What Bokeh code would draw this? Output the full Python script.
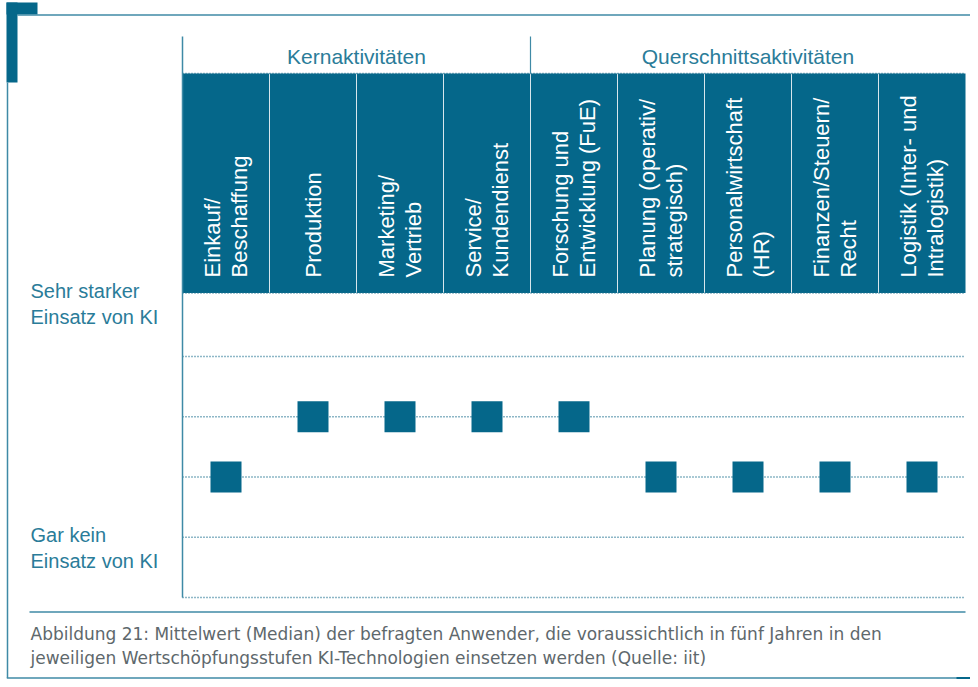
import numpy as np
from bokeh.plotting import figure
from bokeh.models import Range1d, ColumnDataSource
from bokeh.core.properties import value
from bokeh.embed import file_html
from bokeh.resources import INLINE

# ---------------- data ----------------
category_line1 = ["Einkauf/", "Produktion", "Marketing/", "Service/", "Forschung und",
                  "Planung (operativ/", "Personalwirtschaft", "Finanzen/Steuern/", "Logistik (Inter- und"]
category_line2 = ["Beschaffung", "", "Vertrieb", "Kundendienst", "Entwicklung (FuE)",
                  "strategisch)", "(HR)", "Recht", "Intralogistik)"]
median_values = [2, 3, 3, 3, 3, 2, 2, 2, 2]
group_names = ["Kernaktivitäten", "Querschnittsaktivitäten"]
group_start = [0, 4]
group_end = [4, 9]
scale_levels = [0, 1, 2, 3, 4]
top_label = ["Sehr starker", "Einsatz von KI"]
bottom_label = ["Gar kein", "Einsatz von KI"]
caption_lines = ["Abbildung 21: Mittelwert (Median) der befragten Anwender, die voraussichtlich in fünf Jahren in den",
                 "jeweiligen Wertschöpfungsstufen KI-Technologien einsetzen werden (Quelle: iit)"]

# ---------------- layout helpers ----------------
W, H = 970, 679
COL_PX = 87.0
LEVEL_PX = 60.25
AXIS_X_PX = 182.0
ZERO_Y_PX = 597.0


def X(rx):
    return (rx - AXIS_X_PX) / COL_PX


def Y(ry):
    return (ZERO_Y_PX - ry) / LEVEL_PX


TEAL = "#05678A"
LINE = "#3f8aa6"
DOT = "#1c6f8e"
TXT_TEAL = "#2a7c99"
GRAY = "#5e686c"
FONT = "Liberation Sans"
CAP_FONT = "DejaVu Sans"

n = len(median_values)

p = figure(width=W, height=H, x_range=Range1d(X(0), X(W)),
           y_range=Range1d(Y(H), Y(0)),
           x_axis_type=None, y_axis_type=None, toolbar_location=None,
           output_backend="svg", min_border=0, outline_line_color=None)
p.background_fill_color = "white"
p.border_fill_color = "white"

# ---------------- frame decoration ----------------
p.quad(left=[X(6)], right=[X(37)], top=[Y(2)], bottom=[Y(14)], fill_color=TEAL, line_color=None)
p.quad(left=[X(6)], right=[X(17)], top=[Y(2)], bottom=[Y(82)], fill_color=TEAL, line_color=None)
p.segment(x0=[X(17)], y0=[Y(14.5)], x1=[X(W)], y1=[Y(14.5)], line_color=LINE, line_width=1.5)
p.segment(x0=[X(7)], y0=[Y(82)], x1=[X(7)], y1=[Y(677.5)], line_color=LINE, line_width=1.5)
p.segment(x0=[X(6.3)], y0=[Y(677.5)], x1=[X(W)], y1=[Y(677.5)], line_color=LINE, line_width=1.5)
p.quad(left=[X(956)], right=[X(W)], top=[Y(676.5)], bottom=[Y(H)], fill_color=TEAL, line_color=None)
# caption separator
p.segment(x0=[X(29)], y0=[Y(611.5)], x1=[X(965)], y1=[Y(611.5)], line_color=LINE, line_width=1.5)

# ---------------- header band ----------------
band_top = Y(73)
band_bottom = Y(292.5)
p.quad(left=[0], right=[n], top=[band_top], bottom=[band_bottom], fill_color=TEAL, line_color=None)
sep_x = list(range(1, n))
p.segment(x0=sep_x, y0=[band_bottom] * len(sep_x), x1=sep_x, y1=[band_top] * len(sep_x),
          line_color="#d8e6ec", line_width=1)
p.segment(x0=[0, 0], y0=[band_top, band_bottom], x1=[n, n], y1=[band_top, band_bottom],
          line_color=DOT, line_width=1.3, line_dash="1 2")

# group labels & separator
p.segment(x0=[group_end[0]], y0=[band_top], x1=[group_end[0]], y1=[Y(36)], line_color=LINE, line_width=1.2)
gx = [(s + e) / 2 for s, e in zip(group_start, group_end)]
p.text(x=gx, y=[Y(56)] * 2, text=group_names, text_align="center", text_baseline="alphabetic",
       text_font=value(FONT), text_font_size="21px", text_color=TXT_TEAL)

# category texts (rotated)
xc = np.arange(n) + 0.5
off = 13.5 / COL_PX
two = [c2 != "" for c2 in category_line2]
x1 = [x - off if t else x for x, t in zip(xc, two)]
x2 = [x + off for x, t in zip(xc, two) if t]
t2 = [c for c in category_line2 if c]
p.text(x=x1, y=[Y(277)] * n, text=category_line1, angle=np.pi / 2, text_align="left",
       text_baseline="middle", text_font=value(FONT), text_font_size="22px", text_color="white")
p.text(x=x2, y=[Y(277)] * len(x2), text=t2, angle=np.pi / 2, text_align="left",
       text_baseline="middle", text_font=value(FONT), text_font_size="22px", text_color="white")

# ---------------- plot area ----------------
p.segment(x0=[0] * len(scale_levels), y0=scale_levels, x1=[n] * len(scale_levels), y1=scale_levels,
          line_color=DOT, line_width=1.3, line_dash="1 2")
p.segment(x0=[0], y0=[0], x1=[0], y1=[Y(36)], line_color=LINE, line_width=1.5)

src = ColumnDataSource(dict(x=xc, y=median_values))
p.scatter(x="x", y="y", source=src, marker="square", size=31, fill_color=TEAL, line_color=None)

# y labels
p.text(x=[X(30)] * 2, y=[Y(290), Y(316)], text=top_label, text_align="left", text_baseline="alphabetic",
       text_font=value(FONT), text_font_size="20px", text_color=TXT_TEAL)
p.text(x=[X(30)] * 2, y=[Y(534), Y(560)], text=bottom_label, text_align="left", text_baseline="alphabetic",
       text_font=value(FONT), text_font_size="20px", text_color=TXT_TEAL)

# caption
p.text(x=[X(30)] * 2, y=[Y(633.5), Y(657.5)], text=caption_lines, text_align="left", text_baseline="alphabetic",
       text_font=value(CAP_FONT), text_font_size="17px", text_color=GRAY)

open("out.html", "w").write(file_html(p, INLINE))
